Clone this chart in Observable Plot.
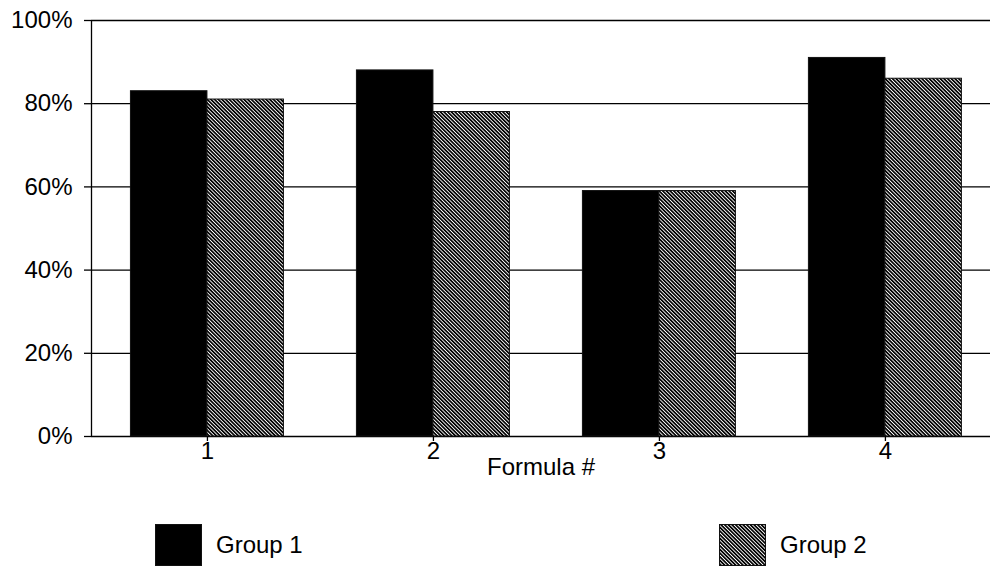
<!DOCTYPE html>
<html>
<head>
<meta charset="utf-8">
<script src="https://cdn.jsdelivr.net/npm/d3@7"></script>
<script src="https://cdn.jsdelivr.net/npm/@observablehq/plot@0.6"></script>
<style>
  body { margin: 0; background: #fff; font-family: "Liberation Sans", Arial, Helvetica, sans-serif; }
  #chart { width: 990px; height: 568px; position: relative; overflow: hidden; }
  .legend { position: relative; height: 68px; }
  .item { position: absolute; top: 24px; display: flex; align-items: center; font-size: 24px; color: #000; }
  .item svg { margin-right: 14px; display: block; }
</style>
</head>
<body>
<div id="chart"></div>
<script>
// ---- data ----
const formulas = [1, 2, 3, 4];
const group1 = [0.83, 0.88, 0.59, 0.91];
const group2 = [0.81, 0.78, 0.59, 0.86];
const groupNames = ["Group 1", "Group 2"];
const yTicks = [0, 0.2, 0.4, 0.6, 0.8, 1.0];
const xLabel = "Formula #";

// ---- layout constants ----
const xDomain = [0.487, 4.465];
const halfBand = 0.3385;
const fills = ["#000", "url(#hatch)"];

const rows = [];
formulas.forEach((f, i) => {
  rows.push({formula: f, group: groupNames[0], value: group1[i], side: -1});
  rows.push({formula: f, group: groupNames[1], value: group2[i], side: 1});
});

const svg = Plot.plot({
  width: 990,
  height: 500,
  marginLeft: 91,
  marginRight: 0,
  marginTop: 20,
  marginBottom: 64,
  style: {fontFamily: '"Liberation Sans", Arial, Helvetica, sans-serif', fontSize: "24px", color: "#000", background: "#fff"},
  x: {type: "linear", domain: xDomain},
  y: {domain: [0, 1]},
  marks: [
    Plot.ruleY(yTicks, {stroke: "#000", strokeWidth: 1.3}),
    Plot.rect(rows, {
      x1: d => d.side < 0 ? d.formula - halfBand : d.formula,
      x2: d => d.side < 0 ? d.formula : d.formula + halfBand,
      y1: 0,
      y2: "value",
      fill: d => d.side < 0 ? fills[0] : fills[1],
      stroke: "#111",
      strokeWidth: 1
    }),
    Plot.ruleX([xDomain[0]], {stroke: "#000", strokeWidth: 1.3}),
    Plot.axisY({ticks: yTicks, tickFormat: d3.format(".0%"), tickSize: 7, tickPadding: 12, label: null, stroke: "#000", strokeWidth: 1.3}),
    Plot.axisX({ticks: formulas, tickFormat: d => String(d), tickSize: 5, tickPadding: 0, label: null, stroke: "#000", strokeWidth: 1.3}),
    Plot.text([xLabel], {frameAnchor: "bottom", lineAnchor: "middle", dy: 31, text: d => d, fontSize: 24, fill: "#000"})
  ]
});

svg.insertAdjacentHTML("afterbegin",
  '<defs><pattern id="hatch" width="2.6" height="2.6" patternUnits="userSpaceOnUse" patternTransform="rotate(-45)">' +
  '<rect width="2.6" height="2.6" fill="#fff"/><rect width="1.7" height="2.6" fill="#000"/></pattern></defs>');

const chart = document.getElementById("chart");
chart.appendChild(svg);

const legend = document.createElement("div");
legend.className = "legend";
const lefts = [155, 719];
groupNames.forEach((name, i) => {
  const item = document.createElement("div");
  item.className = "item";
  item.style.left = lefts[i] + "px";
  item.innerHTML = `<svg width="47" height="42"><rect x="0.5" y="0.5" width="46" height="41" fill="${fills[i]}" stroke="#111"/></svg><span>${name}</span>`;
  legend.appendChild(item);
});
chart.appendChild(legend);
</script>
</body>
</html>
